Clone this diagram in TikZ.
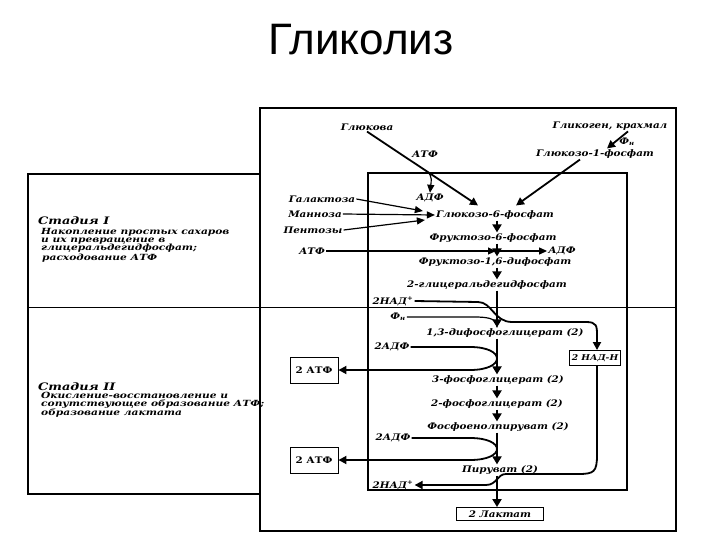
\documentclass[tikz,border=0pt]{standalone}
\usepackage{fontspec}
\setmainfont{DejaVu Serif}
\newfontfamily\wf[FakeStretch=1.15]{DejaVu Serif}
\newfontfamily\stgf[FakeStretch=1.25]{DejaVu Serif}
\newfontfamily\tf{Liberation Sans}
\usetikzlibrary{arrows.meta,calc}
\begin{document}
\begin{tikzpicture}[x=1pt,y=-1pt,
 lbl/.style={font=\wf\bfseries\itshape\fontsize{9}{10}\selectfont, inner sep=1pt},
 stg/.style={font=\stgf\bfseries\itshape\fontsize{8.5}{9}\selectfont, inner sep=0pt, anchor=base west},
 sthead/.style={font=\stgf\bfseries\itshape\fontsize{10.3}{11}\selectfont, inner sep=0pt, anchor=base west},
 frame/.style={line width=1.3pt},
 mainarr/.style={line width=2.4pt, -{Triangle[length=8pt,width=9pt]}},
 medarr/.style={line width=1.8pt, -{Triangle[length=8pt,width=8pt]}},
 thinarr/.style={line width=1.2pt, -{Triangle[length=8pt,width=7pt]}},
 thinline/.style={line width=1.2pt},
 boxed/.style={draw, line width=0.9pt, inner sep=2pt},
]
\useasboundingbox (0,0) rectangle (720,540);
% title
\node[font=\tf\fontsize{44}{46}\selectfont] (title) at (361,40) {Гликолиз};
% frames
\draw[frame] (260,108) rectangle (676,531);
\draw[frame] (368,173) rectangle (627,490);
\draw[frame] (260,174) -- (28,174) -- (28,494) -- (260,494);
\draw[line width=1pt] (28,307) -- (676,307);
% stage texts
\node[sthead] (s1h) at (38,225) {Стадия I};
\node[stg] (s1a) at (41,234) {Накопление простых сахаров};
\node[stg] (s1b) at (41,243) {и их превращение в};
\node[stg] (s1c) at (41,251) {глицеральдегидфосфат;};
\node[stg] (s1d) at (42,260) {расходование АТФ};
\node[sthead] (s2h) at (38,390) {Стадия II};
\node[stg] (s2a) at (41,398) {Окисление-восстановление и};
\node[stg] (s2b) at (41,406) {сопутствующее образование АТФ;};
\node[stg] (s2c) at (41,415) {образование лактата};
% main column
\coordinate (m) at (497,0);
% labels
\node[lbl] (glc) at (367,127) {Глюкова};
\node[lbl] (atp1) at (425,154) {АТФ};
\node[lbl] (glyc) at (610,126) {Гликоген, крахмал};
\node[lbl] (pi1) at (627,142) {Ф\textsubscript{н}};
\node[lbl] (g1p) at (595,154) {Глюкозо-1-фосфат};
\node[lbl] (adp1) at (430,198) {АДФ};
\node[lbl] (gal) at (322,199) {Галактоза};
\node[lbl] (man) at (315,214) {Манноза};
\node[lbl] (pent) at (313,230) {Пентозы};
\node[lbl] (g6p) at (495,215) {Глюкозо-6-фосфат};
\node[lbl] (f6p) at (493,238) {Фруктозо-6-фосфат};
\node[lbl] (atp2) at (312,251) {АТФ};
\node[lbl] (adp2) at (562,251) {АДФ};
\node[lbl] (f16) at (495,262) {Фруктозо-1,6-дифосфат};
\node[lbl] (gap) at (487,285) {2-глицеральдегидфосфат};
\node[lbl] (nad1) at (393,301) {2НАД\textsuperscript{+}};
\node[lbl] (pi2) at (398,317) {Ф\textsubscript{н}};
\node[lbl] (bpg) at (505,333) {1,3-дифосфоглицерат (2)};
\node[lbl] (adp3) at (392,347) {2АДФ};
\node[lbl,boxed,font=\wf\bfseries\itshape\fontsize{8}{9}\selectfont,minimum width=51pt,minimum height=15pt,inner sep=0.5pt] (nadh) at (595,358) {2 НАД-Н};
\node[boxed,font=\wf\bfseries\fontsize{9}{10}\selectfont,minimum width=48pt,minimum height=26pt] (atpb1) at (314,370) {2 АТФ};
\node[lbl] (pg3) at (498,380) {3-фосфоглицерат (2)};
\node[lbl] (pg2) at (497,404) {2-фосфоглицерат (2)};
\node[lbl] (pep) at (498,427) {Фосфоенолпируват (2)};
\node[lbl] (adp4) at (393,438) {2АДФ};
\node[boxed,font=\wf\bfseries\fontsize{9}{10}\selectfont,minimum width=48pt,minimum height=26pt] (atpb2) at (314,460) {2 АТФ};
\node[lbl] (pyr) at (500,470) {Пируват (2)};
\node[lbl] (nad2) at (393,485) {2НАД\textsuperscript{+}};
\node[lbl,boxed,minimum width=87pt,minimum height=13pt,inner sep=0.5pt] (lac) at (500,514) {2 Лактат};
% upper connectors
\coordinate (d1) at ([xshift=-17pt,yshift=4pt]g6p.north);
\coordinate (hk) at ($(glc.south)!0.54!(d1)$);
\draw[medarr] (glc.south) -- (d1);
\draw[thinarr] (hk) .. controls ($(hk)+(6,4)$) and ($(adp1.north)+(1,-10)$) .. (adp1.north);
\draw[medarr] ([xshift=18pt]glyc.south) -- ([xshift=12pt]g1p.north);
\draw[medarr] ([xshift=-15pt]g1p.south) -- ([xshift=21pt,yshift=4pt]g6p.north);
\draw[thinarr] (gal.east) -- ([xshift=-12pt,yshift=4pt]g6p.west);
\draw[thinarr] (man.east) -- (g6p.west);
\draw[thinarr] (pent.east) -- ([xshift=-10pt,yshift=-5pt]g6p.west);
% main chain
\draw[mainarr] (g6p.south -| m) -- (f6p.north -| m);
\draw[mainarr] (f6p.south -| m) -- (f16.north -| m);
\draw[thinarr,shorten >=1pt] (atp2.east) -- (atp2.east -| m);
\draw[thinarr] (adp2.west -| m) -- (adp2.west);
\draw[mainarr] (f16.south -| m) -- (gap.north -| m);
\draw[mainarr] (gap.south -| m) -- (bpg.north -| m);
\draw[medarr] (nad1.east) -- (478,302) .. controls (492,302) and (494,322) .. (512,322) -- (586,322) .. controls (597,322) and (597,326) .. (597,336) -- (nadh.north -| 597,0);
\draw[thinline] (pi2.east) -- (474,317) .. controls (490,317) and (497,319) .. (bpg.north -| m);
\draw[mainarr] (bpg.south -| m) -- (pg3.north -| m);
\draw[medarr] (adp3.east) -- (470,347) .. controls (506,347) and (506,370) .. (470,370) -- (atpb1.east);
\draw[mainarr] (pg3.south -| m) -- (pg2.north -| m);
\draw[mainarr] (pg2.south -| m) -- (pep.north -| m);
\draw[mainarr] (pep.south -| m) -- (pyr.north -| m);
\draw[medarr] (adp4.east) -- (470,438) .. controls (506,438) and (506,460) .. (470,460) -- (atpb2.east);
\draw[medarr] (nadh.south -| 597,0) -- (597,455) .. controls (597,472) and (594,474) .. (578,474) -- (506,474) .. controls (497,474) and (497,485) .. (486,485) -- (nad2.east);
\draw[mainarr] (pyr.south -| m) -- (lac.north -| m);
\end{tikzpicture}
\end{document}
